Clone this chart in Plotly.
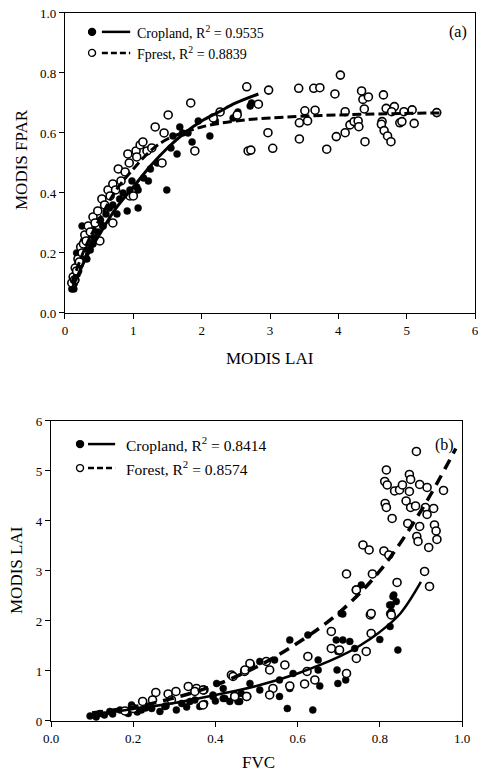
import plotly.graph_objects as go

# ---- panel (a): MODIS LAI vs MODIS FPAR ----
a_crop_lai = [0.10, 0.11, 0.12, 0.13, 0.14, 0.15, 0.16, 0.17, 0.18, 0.19, 0.20, 0.21,
              0.22, 0.23, 0.25, 0.26, 0.28, 0.30, 0.32, 0.35, 0.38, 0.40, 0.43, 0.45,
              0.48, 0.52, 0.55, 0.60, 0.65, 0.70, 0.76, 0.80, 0.85, 0.91, 0.95, 0.98,
              1.05, 1.07, 1.07, 1.15, 1.22, 1.25, 1.35, 1.49, 1.55, 1.58, 1.64, 1.68,
              1.72, 1.80, 1.86, 1.95, 2.12, 2.20, 2.46, 2.53, 2.73, 2.71, 0.25, 0.22,
              0.32, 0.41, 0.56, 0.13, 0.17, 0.27, 0.37]
a_crop_fpar = [0.08, 0.10, 0.09, 0.12, 0.10, 0.13, 0.11, 0.15, 0.13, 0.17, 0.14, 0.19,
               0.16, 0.20, 0.18, 0.22, 0.20, 0.24, 0.21, 0.26, 0.23, 0.28, 0.25, 0.30,
               0.27, 0.31, 0.29, 0.33, 0.35, 0.36, 0.33, 0.38, 0.40, 0.34, 0.41, 0.44,
               0.42, 0.35, 0.41, 0.45, 0.44, 0.48, 0.50, 0.41, 0.55, 0.59, 0.53, 0.62,
               0.60, 0.60, 0.57, 0.64, 0.59, 0.64, 0.65, 0.67, 0.70, 0.69, 0.29, 0.20,
               0.18, 0.23, 0.29, 0.08, 0.20, 0.24, 0.21]

a_forest_lai = [0.10, 0.12, 0.14, 0.15, 0.17, 0.19, 0.21, 0.23, 0.25, 0.27, 0.29, 0.31,
                0.34, 0.37, 0.41, 0.44, 0.48, 0.51, 0.54, 0.58, 0.63, 0.66, 0.70, 0.70,
                0.74, 0.78, 0.82, 0.88, 0.92, 0.94, 0.95, 1.00, 1.04, 1.05, 1.10, 1.14,
                1.20, 1.27, 1.32, 1.42, 1.45, 1.51, 1.84, 1.90, 2.17, 2.27, 2.52, 2.68,
                2.66, 2.98, 2.83, 3.42, 3.64, 3.73, 4.03, 3.95, 4.34, 4.36, 4.44, 4.66,
                3.51, 3.66, 4.10, 4.38, 4.70, 4.82, 4.78, 4.96, 5.08, 5.44, 3.43, 3.55,
                2.97, 3.43, 2.72, 3.04, 3.83, 3.97, 4.10, 4.17, 4.23, 4.29, 4.30, 4.39,
                4.64, 4.63, 4.67, 4.72, 4.77, 4.90, 4.93, 5.11]
a_forest_fpar = [0.10, 0.12, 0.11, 0.15, 0.14, 0.18, 0.17, 0.22, 0.20, 0.23, 0.26, 0.24,
                 0.29, 0.27, 0.32, 0.30, 0.34, 0.24, 0.38, 0.36, 0.41, 0.39, 0.43, 0.30,
                 0.41, 0.48, 0.44, 0.47, 0.53, 0.50, 0.39, 0.39, 0.54, 0.52, 0.56, 0.57,
                 0.54, 0.55, 0.62, 0.50, 0.60, 0.66, 0.70, 0.54, 0.65, 0.67, 0.66, 0.54,
                 0.754, 0.743, 0.696, 0.749, 0.749, 0.751, 0.793, 0.73, 0.74, 0.712, 0.72, 0.727,
                 0.674, 0.676, 0.671, 0.68, 0.682, 0.688, 0.671, 0.671, 0.677, 0.668, 0.634, 0.64,
                 0.601, 0.58, 0.543, 0.549, 0.546, 0.588, 0.601, 0.627, 0.638, 0.64, 0.621, 0.571,
                 0.638, 0.629, 0.608, 0.59, 0.571, 0.634, 0.638, 0.632]

a_crop_fit_lai = [0.10, 0.30, 0.50, 0.75, 1.00, 1.25, 1.50, 1.75, 2.00, 2.25, 2.50, 2.83]
a_crop_fit_fpar = [0.08, 0.18, 0.26, 0.35, 0.42, 0.49, 0.55, 0.60, 0.64, 0.67, 0.70, 0.73]
a_forest_fit_lai = [0.10, 0.30, 0.50, 0.75, 1.00, 1.25, 1.50, 2.00, 2.50, 3.00, 4.00, 5.50]
a_forest_fit_fpar = [0.10, 0.22, 0.31, 0.41, 0.48, 0.54, 0.58, 0.62, 0.64, 0.65, 0.66, 0.667]

# ---- panel (b): FVC vs MODIS LAI ----
b_crop_fvc = [0.095, 0.119, 0.143, 0.168, 0.196, 0.188, 0.220, 0.245, 0.265, 0.277, 0.305,
              0.318, 0.338, 0.362, 0.374, 0.394, 0.403, 0.423, 0.435, 0.419, 0.455, 0.463,
              0.834, 0.828, 0.824, 0.825, 0.844, 0.800, 0.710, 0.625, 0.581, 0.694, 0.710,
              0.727, 0.698, 0.650, 0.650, 0.696, 0.698, 0.717, 0.654, 0.589, 0.556, 0.581,
              0.556, 0.575, 0.637, 0.508, 0.508, 0.488, 0.459, 0.419, 0.394, 0.484, 0.544,
              0.739, 0.832, 0.824, 0.840, 0.828, 0.755, 0.706, 0.11, 0.13, 0.15, 0.21,
              0.23, 0.28, 0.33, 0.35, 0.40]
b_crop_lai = [0.10, 0.15, 0.19, 0.22, 0.32, 0.15, 0.22, 0.25, 0.19, 0.29, 0.22,
              0.35, 0.39, 0.29, 0.35, 0.52, 0.75, 0.45, 0.39, 0.65, 0.39, 0.55,
              2.52, 2.32, 2.15, 1.89, 1.42, 1.63, 2.14, 1.72, 1.62, 1.62, 1.62,
              1.59, 1.39, 1.22, 1.02, 1.02, 0.75, 0.82, 0.70, 0.95, 0.82, 0.65,
              0.49, 0.25, 0.22, 0.62, 1.19, 1.12, 0.39, 0.45, 0.49, 0.75, 1.22,
              1.45, 2.49, 2.32, 2.39, 2.19, 2.72, 2.15, 0.08, 0.12, 0.14, 0.18,
              0.26, 0.30, 0.28, 0.42, 0.40]

b_forest_fvc = [0.255, 0.285, 0.304, 0.223, 0.247, 0.334, 0.354, 0.350, 0.372, 0.439, 0.447,
                0.471, 0.476, 0.293, 0.743, 0.777, 0.682, 0.779, 0.682, 0.702, 0.767, 0.625,
                0.743, 0.569, 0.532, 0.623, 0.719, 0.642, 0.617, 0.581, 0.540, 0.532, 0.476,
                0.447, 0.484, 0.443, 0.472, 0.524, 0.370, 0.370,
                0.889, 0.816, 0.872, 0.812, 0.818, 0.836, 0.848, 0.855, 0.875, 0.897, 0.915,
                0.955, 0.872, 0.864, 0.875, 0.813, 0.816, 0.887, 0.911, 0.931, 0.915, 0.830,
                0.868, 0.897, 0.933, 0.937, 0.890, 0.893, 0.939, 0.919, 0.759, 0.774, 0.810,
                0.822, 0.719, 0.782, 0.909, 0.743, 0.842, 0.921, 0.779, 0.828, 0.18, 0.20]
b_forest_lai = [0.57, 0.54, 0.59, 0.39, 0.42, 0.69, 0.65, 0.59, 0.62, 0.92, 0.49,
                0.99, 0.49, 0.42, 2.62, 2.12, 1.79, 1.75, 1.45, 1.42, 1.39, 1.29,
                1.25, 1.12, 1.02, 0.99, 0.95, 0.82, 0.74, 0.70, 0.65, 0.52, 0.49,
                0.49, 1.15, 0.89, 1.02, 1.19, 0.62, 0.32,
                5.39, 5.02, 4.93, 4.79, 4.72, 4.60, 4.62, 4.72, 4.83, 4.73, 4.67,
                4.61, 4.59, 4.40, 4.27, 4.35, 4.27, 4.30, 4.27, 4.25, 4.13, 4.05,
                3.95, 3.89, 3.92, 3.80, 3.69, 3.59, 3.63, 3.47, 3.52, 3.42, 3.40,
                3.32, 2.94, 2.94, 2.99, 2.62, 2.77, 2.69, 2.15, 2.12, 0.20, 0.25]

b_crop_fit_fvc = [0.10, 0.20, 0.30, 0.40, 0.50, 0.60, 0.70, 0.75, 0.80, 0.85, 0.90]
b_crop_fit_lai = [0.12, 0.24, 0.36, 0.52, 0.70, 0.95, 1.28, 1.50, 1.78, 2.15, 2.78]
b_forest_fit_fvc = [0.10, 0.20, 0.30, 0.40, 0.50, 0.60, 0.70, 0.80, 0.90, 0.985]
b_forest_fit_lai = [0.16, 0.28, 0.46, 0.72, 1.08, 1.56, 2.16, 3.00, 4.20, 5.45]

SERIF = "Liberation Serif"

fig = go.Figure()

open_marker = dict(symbol="circle", size=8, color="white", line=dict(color="black", width=1.6))
dot_marker = dict(symbol="circle", size=7, color="black", line=dict(color="black", width=0.5))

# panel a
fig.add_trace(go.Scatter(x=a_crop_lai, y=a_crop_fpar, mode="markers", marker=dot_marker,
                         xaxis="x", yaxis="y", showlegend=False))
fig.add_trace(go.Scatter(x=a_forest_lai, y=a_forest_fpar, mode="markers", marker=open_marker,
                         xaxis="x", yaxis="y", showlegend=False))
fig.add_trace(go.Scatter(x=a_crop_fit_lai, y=a_crop_fit_fpar, mode="lines", line_shape="spline",
                         line=dict(color="black", width=3), xaxis="x", yaxis="y", showlegend=False))
fig.add_trace(go.Scatter(x=a_forest_fit_lai, y=a_forest_fit_fpar, mode="lines", line_shape="spline",
                         line=dict(color="black", width=3, dash="9px,4px"),
                         xaxis="x", yaxis="y", showlegend=False))

# panel b
fig.add_trace(go.Scatter(x=b_crop_fvc, y=b_crop_lai, mode="markers", marker=dot_marker,
                         xaxis="x2", yaxis="y2", showlegend=False))
fig.add_trace(go.Scatter(x=b_forest_fvc, y=b_forest_lai, mode="markers", marker=open_marker,
                         xaxis="x2", yaxis="y2", showlegend=False))
fig.add_trace(go.Scatter(x=b_crop_fit_fvc, y=b_crop_fit_lai, mode="lines", line_shape="spline",
                         line=dict(color="black", width=2.5), xaxis="x2", yaxis="y2", showlegend=False))
fig.add_trace(go.Scatter(x=b_forest_fit_fvc, y=b_forest_fit_lai, mode="lines", line_shape="spline",
                         line=dict(color="black", width=3.5, dash="11px,7px"),
                         xaxis="x2", yaxis="y2", showlegend=False))

axis_style = dict(showgrid=False, zeroline=False, showline=True, linecolor="black", linewidth=1.3,
                  mirror=True, ticks="outside", ticklen=5, tickcolor="black", automargin=False,
                  ticklabeloverflow="allow",
                  tickfont=dict(family=SERIF, size=13, color="black"))

fig.update_layout(
    width=480, height=777,
    margin=dict(l=0, r=0, t=0, b=0),
    paper_bgcolor="white", plot_bgcolor="white",
    font=dict(family=SERIF, color="black"),
    xaxis=dict(domain=[0.1354, 0.9896], range=[0, 6], dtick=1, anchor="y", **axis_style),
    yaxis=dict(domain=[0.5972, 0.9833], range=[0, 1], dtick=0.2, tickformat=".1f", anchor="x",
               **axis_style),
    xaxis2=dict(domain=[0.10625, 0.9625], range=[0, 1], dtick=0.2, tickformat=".1f", anchor="y2",
                **axis_style),
    yaxis2=dict(domain=[0.0721, 0.4582], range=[0, 6], dtick=1, anchor="x2", **axis_style),
)

shapes = []
annos = []

# axis titles
title_font = dict(family=SERIF, size=17, color="black")
annos.append(dict(xref="paper", yref="paper", x=22 / 480, y=1 - 160 / 777, text="MODIS FPAR",
                  textangle=-90, xanchor="center", yanchor="middle", showarrow=False, font=title_font))
annos.append(dict(xref="paper", yref="paper", x=270 / 480, y=1 - 358 / 777, text="MODIS LAI",
                  xanchor="center", yanchor="middle", showarrow=False, font=title_font))
annos.append(dict(xref="paper", yref="paper", x=16 / 480, y=1 - 570 / 777, text="MODIS LAI",
                  textangle=-90, xanchor="center", yanchor="middle", showarrow=False, font=title_font))
annos.append(dict(xref="paper", yref="paper", x=258 / 480, y=1 - 762 / 777, text="FVC",
                  xanchor="center", yanchor="middle", showarrow=False, font=title_font))

# legends drawn inside each panel
legend_specs = [
    ("x domain", "y domain", 0.066, 0.090, 0.159, 0.171, 14,
     [("Cropland, R<sup>2</sup> = 0.9535", True, 0.937), ("Fprest, R<sup>2</sup> = 0.8839", False, 0.867)],
     "(a)", 0.985, 0.937),
    ("x2 domain", "y2 domain", 0.0706, 0.090, 0.156, 0.178, 15.5,
     [("Cropland, R<sup>2</sup> = 0.8414", True, 0.923), ("Forest, R<sup>2</sup> = 0.8574", False, 0.843)],
     "(b)", 0.985, 0.92),
]
for xr, yr, xdot, xl0, xl1, xt, fsize, rows, tag, tx, ty in legend_specs:
    for label, filled, yy in rows:
        shapes.append(dict(type="circle", xref=xr, yref=yr, xsizemode="pixel", ysizemode="pixel",
                           xanchor=xdot, yanchor=yy, x0=-3.5, x1=3.5, y0=-3.5, y1=3.5,
                           fillcolor="black" if filled else "white",
                           line=dict(color="black", width=1.4)))
        shapes.append(dict(type="line", xref=xr, yref=yr, x0=xl0, x1=xl1, y0=yy, y1=yy,
                           line=dict(color="black", width=2.5, dash="solid" if filled else "6px,3px")))
        annos.append(dict(xref=xr, yref=yr, x=xt, y=yy, text=label, showarrow=False,
                          xanchor="left", yanchor="middle",
                          font=dict(family=SERIF, size=fsize, color="black")))
    annos.append(dict(xref=xr, yref=yr, x=tx, y=ty, text=tag, showarrow=False,
                      xanchor="right", yanchor="middle",
                      font=dict(family=SERIF, size=16, color="black")))

fig.update_layout(shapes=shapes, annotations=annos)

# drop the page's default body margin so the figure sits at the window's top-left corner
fig.write_html("out.html", config={"displayModeBar": False},
               post_script="document.body.style.margin='0';")
